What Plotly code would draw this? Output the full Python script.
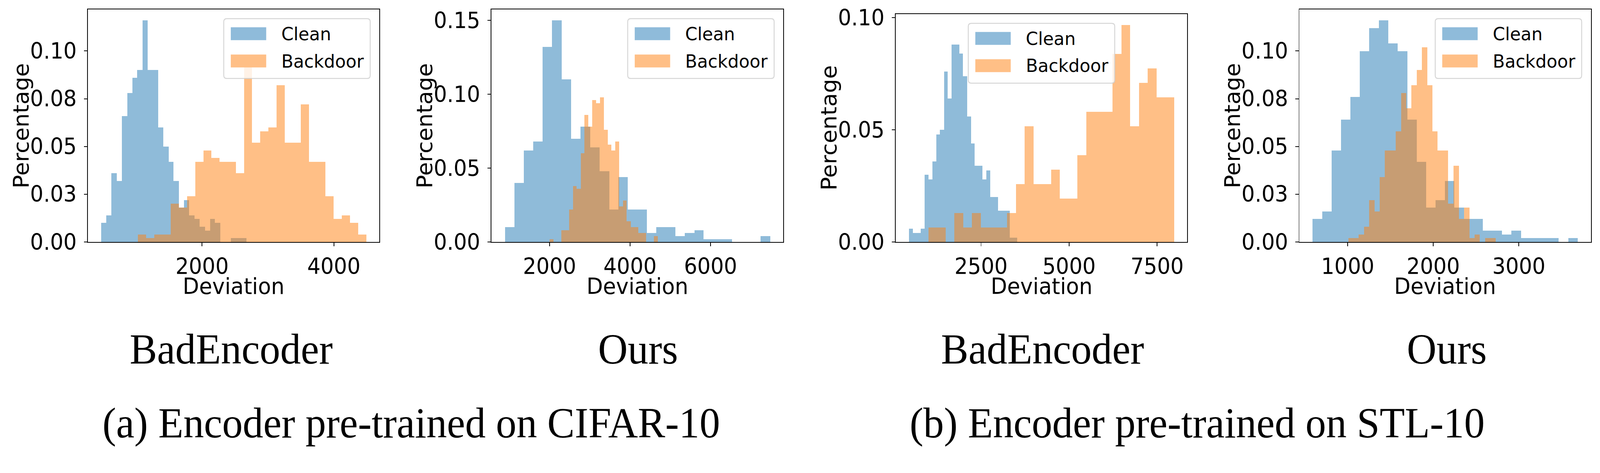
import plotly.graph_objects as go

W, H = 4283, 1210

# ---------------- data ----------------
# (a) encoder pre-trained on CIFAR-10 -- BadEncoder
A_BAD_CLEAN_BINS = (468.6, 78.6)          # first edge, bin width
A_BAD_CLEAN = [0.010, 0.014, 0.036, 0.032, 0.066, 0.078, 0.086, 0.090, 0.116, 0.090,
               0.090, 0.060, 0.050, 0.042, 0.032, 0.018, 0.022, 0.014, 0.012, 0.008,
               0.006, 0.012, 0.010, 0.000, 0.000, 0.002, 0.002, 0.002]
A_BAD_BACK_BINS = (1027.6, 123.7)
A_BAD_BACK = [0.004, 0.002, 0.004, 0.004, 0.020, 0.018, 0.024, 0.042, 0.048, 0.044,
              0.042, 0.042, 0.036, 0.094, 0.052, 0.058, 0.060, 0.082, 0.052, 0.052,
              0.072, 0.042, 0.042, 0.024, 0.012, 0.014, 0.010, 0.004]

# (a) encoder pre-trained on CIFAR-10 -- Ours
A_OURS_CLEAN_BINS = (888.0, 235.4)
A_OURS_CLEAN = [0.010, 0.040, 0.062, 0.068, 0.132, 0.150, 0.110, 0.070, 0.078, 0.064,
                0.048, 0.022, 0.044, 0.022, 0.022, 0.006, 0.010, 0.010, 0.004, 0.006,
                0.008, 0.002, 0.002, 0.002, 0.000, 0.000, 0.000, 0.004]
A_OURS_BACK_BINS = (2006.0, 95.8)
A_OURS_BACK = [0.002, 0.000, 0.000, 0.008, 0.008, 0.022, 0.038, 0.036, 0.060, 0.086,
               0.078, 0.096, 0.094, 0.098, 0.076, 0.066, 0.062, 0.068, 0.024, 0.028,
               0.014, 0.010, 0.010, 0.006, 0.006, 0.000, 0.000, 0.004]

# (b) encoder pre-trained on STL-10 -- BadEncoder
B_BAD_CLEAN_BINS = (455.5, 109.8)
B_BAD_CLEAN = [0.006, 0.004, 0.004, 0.006, 0.030, 0.028, 0.036, 0.048, 0.050, 0.076,
               0.064, 0.088, 0.088, 0.084, 0.074, 0.056, 0.044, 0.034, 0.034, 0.028,
               0.032, 0.020, 0.020, 0.014, 0.014, 0.014, 0.002, 0.002]
B_BAD_BACK_BINS = (1000.0, 249.2)
B_BAD_BACK = [0.0065, 0.0065, 0.0000, 0.0129, 0.0065, 0.0129, 0.0065, 0.0065, 0.0065, 0.0129,
              0.0258, 0.0516, 0.0258, 0.0258, 0.0323, 0.0194, 0.0194, 0.0387, 0.0581, 0.0581,
              0.0581, 0.0839, 0.0968, 0.0516, 0.0710, 0.0774, 0.0645, 0.0645]

# (b) encoder pre-trained on STL-10 -- Ours
B_OURS_CLEAN_BINS = (590.0, 110.6)
B_OURS_CLEAN = [0.012, 0.016, 0.048, 0.064, 0.076, 0.100, 0.112, 0.116, 0.104, 0.100,
                0.064, 0.042, 0.018, 0.022, 0.032, 0.018, 0.012, 0.012, 0.006, 0.006,
                0.004, 0.006, 0.002, 0.002, 0.002, 0.002, 0.000, 0.002]
B_OURS_BACK_BINS = (1006.0, 61.5)
B_OURS_BACK = [0.002, 0.002, 0.004, 0.008, 0.022, 0.016, 0.034, 0.048, 0.048, 0.058,
               0.078, 0.070, 0.082, 0.090, 0.102, 0.082, 0.058, 0.048, 0.048, 0.020,
               0.040, 0.012, 0.018, 0.002, 0.004, 0.000, 0.002, 0.002]

SERIES_NAMES = ["Clean", "Backdoor"]
X_TICKS = [[2000, 4000], [2000, 4000, 6000], [2500, 5000, 7500], [1000, 2000, 3000]]
Y_TICKS_A = [0.0, 0.025, 0.05, 0.075, 0.10]
Y_TICKTEXT_A = ["0.00", "0.03", "0.05", "0.08", "0.10"]
Y_TICKS_B = [0.0, 0.05, 0.10, 0.15]
Y_TICKTEXT_B = ["0.00", "0.05", "0.10", "0.15"]
Y_TICKS_C = [0.0, 0.05, 0.10]
Y_TICKTEXT_C = ["0.00", "0.05", "0.10"]
SUB_LABELS = ["BadEncoder", "Ours", "BadEncoder", "Ours"]
CAPTIONS = ["(a) Encoder pre-trained on CIFAR-10", "(b) Encoder pre-trained on STL-10"]
X_TITLE = "Deviation"
Y_TITLE = "Percentage"

# ---------------- styling / layout ----------------
C_BLUE = "#1f77b4"
C_ORANGE = "#ff7f0e"
P_BLUE = "rgb(143,187,218)"
P_ORANGE = "rgb(255,191,134)"
TICK_FONT = dict(family="DejaVu Sans", size=56, color="black")
TITLE_FONT = dict(family="DejaVu Sans", size=57, color="black")
LEG_FONT = dict(family="DejaVu Sans", size=47, color="black")
SERIF = dict(family="Liberation Serif, Times New Roman, serif", size=110, color="black")

# axes boxes in pixels (left, right, top, bottom)
BOXES = [(235.5, 1015.7, 23.9, 619.0),
         (1315.7, 2097.0, 23.9, 619.0),
         (2398.0, 3178.0, 35.8, 619.0),
         (3478.3, 4258.6, 23.9, 619.0)]
LEGEND_POS = ["right", "right", "center", "right"]
YTICKS = [(Y_TICKS_A, Y_TICKTEXT_A), (Y_TICKS_B, Y_TICKTEXT_B),
          (Y_TICKS_C, Y_TICKTEXT_C), (Y_TICKS_A, Y_TICKTEXT_A)]
SUB_X = [619, 1708, 2791, 3873]
CAP_X = [1101, 3204]

PANELS = [
    (A_BAD_CLEAN_BINS, A_BAD_CLEAN, A_BAD_BACK_BINS, A_BAD_BACK),
    (A_OURS_CLEAN_BINS, A_OURS_CLEAN, A_OURS_BACK_BINS, A_OURS_BACK),
    (B_BAD_CLEAN_BINS, B_BAD_CLEAN, B_BAD_BACK_BINS, B_BAD_BACK),
    (B_OURS_CLEAN_BINS, B_OURS_CLEAN, B_OURS_BACK_BINS, B_OURS_BACK),
]


def px(x):
    return x / W


def py(y):
    return 1 - y / H


def rounded_rect(x0, y0, x1, y1, r):
    X0, X1 = px(x0), px(x1)
    Y0, Y1 = py(y0), py(y1)
    rx, ry = r / W, r / H
    return (f"M {X0+rx},{Y0} L {X1-rx},{Y0} Q {X1},{Y0} {X1},{Y0-ry} "
            f"L {X1},{Y1+ry} Q {X1},{Y1} {X1-rx},{Y1} "
            f"L {X0+rx},{Y1} Q {X0},{Y1} {X0},{Y1+ry} "
            f"L {X0},{Y0-ry} Q {X0},{Y0} {X0+rx},{Y0} Z")


fig = go.Figure()
shapes = []
annotations = []

for i, (cb, cv, bb, bv) in enumerate(PANELS):
    n = i + 1
    xa = "x" if n == 1 else f"x{n}"
    ya = "y" if n == 1 else f"y{n}"
    for (start, width), vals, color, name in ((cb, cv, C_BLUE, SERIES_NAMES[0]),
                                             (bb, bv, C_ORANGE, SERIES_NAMES[1])):
        centers = [start + (k + 0.5) * width for k in range(len(vals))]
        fig.add_trace(go.Bar(
            x=centers, y=vals, width=[width] * len(vals), name=name,
            marker=dict(color=color, opacity=0.5, line=dict(width=0)),
            xaxis=xa, yaxis=ya, showlegend=False, hoverinfo="skip"))

    lo = min(cb[0], bb[0])
    hi = max(cb[0] + cb[1] * len(cv), bb[0] + bb[1] * len(bv))
    pad = 0.05 * (hi - lo)
    ymax = 1.05 * max(max(cv), max(bv))
    L, R, T, B = BOXES[i]
    axis_common = dict(showline=True, linecolor="black", linewidth=2, mirror=True,
                       ticks="outside", ticklen=9, tickwidth=2, tickcolor="black",
                       showgrid=False, zeroline=False, tickfont=TICK_FONT,
                       automargin=False)
    fig.layout[f"xaxis{'' if n == 1 else n}"] = dict(
        domain=[px(L), px(R)], anchor=ya, range=[lo - pad, hi + pad],
        tickmode="array", tickvals=X_TICKS[i], ticktext=[str(v) for v in X_TICKS[i]],
        ticklabelstandoff=4, **axis_common)
    tv, tt = YTICKS[i]
    fig.layout[f"yaxis{'' if n == 1 else n}"] = dict(
        domain=[py(B), py(T)], anchor=xa, range=[0, ymax],
        tickmode="array", tickvals=tv, ticktext=tt, ticklabelstandoff=8, **axis_common)

    # axis titles
    annotations.append(dict(text=Y_TITLE, x=px(L - 179), y=py((T + B) / 2), xref="paper",
                            yref="paper", textangle=-90, showarrow=False,
                            xanchor="center", yanchor="middle", font=TITLE_FONT))
    annotations.append(dict(text=X_TITLE, x=px((L + R) / 2), y=py(732), xref="paper",
                            yref="paper", showarrow=False, xanchor="center",
                            yanchor="middle", font=TITLE_FONT))
    # sub label
    annotations.append(dict(text=SUB_LABELS[i], x=px(SUB_X[i]), y=py(893), xref="paper",
                            yref="paper", showarrow=False, xanchor="center",
                            yanchor="middle", font=SERIF))

    # legend (drawn like matplotlib's)
    bw, bh = 392.0, 153.0
    if LEGEND_POS[i] == "right":
        bx1 = R - 24.7
        bx0 = bx1 - bw
    else:
        bx0 = (L + R) / 2 - bw / 2
        bx1 = bx0 + bw
    by0 = T + 23.9
    by1 = by0 + bh
    shapes.append(dict(type="path", path=rounded_rect(bx0, by0, bx1, by1, 8),
                       xref="paper", yref="paper", layer="above",
                       fillcolor="rgba(255,255,255,0.8)",
                       line=dict(color="rgba(204,204,204,0.8)", width=2.5)))
    for j, (pc, label) in enumerate(((P_BLUE, SERIES_NAMES[0]), (P_ORANGE, SERIES_NAMES[1]))):
        cy = by0 + 38.5 + j * 69.7
        shapes.append(dict(type="rect", xref="paper", yref="paper", layer="above",
                           x0=px(bx0 + 18.8), x1=px(bx0 + 113.6),
                           y0=py(cy + 16.5), y1=py(cy - 16.5),
                           fillcolor=pc, line=dict(width=0)))
        annotations.append(dict(text=label, x=px(bx0 + 151.9), y=py(cy), xref="paper",
                                yref="paper", showarrow=False, xanchor="left",
                                yanchor="middle", font=LEG_FONT))

for k, cap in enumerate(CAPTIONS):
    annotations.append(dict(text=cap, x=px(CAP_X[k]), y=py(1082), xref="paper",
                            yref="paper", showarrow=False, xanchor="center",
                            yanchor="middle", font=SERIF))

fig.update_layout(width=W, height=H, margin=dict(l=0, r=0, t=0, b=0),
                  paper_bgcolor="white", plot_bgcolor="white", barmode="overlay",
                  bargap=0, shapes=shapes, annotations=annotations, showlegend=False)

# stretch the fixed-size figure to exactly fill the viewport it is opened in
FIT_JS = """
(function(){
  var gd = document.getElementById('{plot_id}');
  document.documentElement.style.margin = '0';
  document.documentElement.style.overflow = 'hidden';
  document.body.style.margin = '0';
  document.body.style.overflow = 'hidden';
  var sx = window.innerWidth / %d, sy = window.innerHeight / %d;
  if (sx > 0 && sy > 0 && (Math.abs(sx - 1) > 0.001 || Math.abs(sy - 1) > 0.001)) {
    gd.style.transformOrigin = '0 0';
    gd.style.transform = 'scale(' + sx + ',' + sy + ')';
  }
})();
""" % (W, H)

fig.write_html("out.html", post_script=FIT_JS, config={"displayModeBar": False})
